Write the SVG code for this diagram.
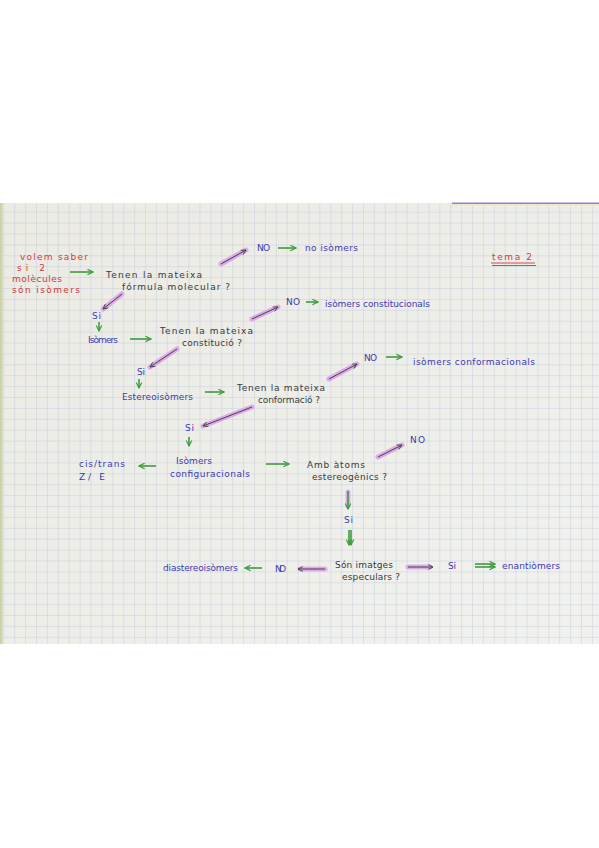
<svg xmlns="http://www.w3.org/2000/svg" width="599" height="848" viewBox="0 0 599 848">
<defs>
<pattern id="grid" patternUnits="userSpaceOnUse" width="10.9" height="10.9" x="3.3" y="4.6">
<path d="M0 0V10.9M0 0H10.9" stroke="#bcc7da" stroke-width="0.8" fill="none"/>
</pattern>
<linearGradient id="paper" x1="0" y1="0" x2="1" y2="1">
<stop offset="0" stop-color="#ebeae3"/>
<stop offset="1" stop-color="#f1f2ee"/>
</linearGradient>
<marker id="ga" viewBox="0 0 10 10" refX="9" refY="5" markerWidth="7" markerHeight="7" orient="auto-start-reverse" markerUnits="userSpaceOnUse">
<path d="M1 1L9 5L1 9" fill="none" stroke="#3d9b3d" stroke-width="1.6"/>
</marker>
<marker id="ka" viewBox="0 0 10 10" refX="9" refY="5" markerWidth="6" markerHeight="6" orient="auto-start-reverse" markerUnits="userSpaceOnUse">
<path d="M1 1L9 5L1 9" fill="none" stroke="#444" stroke-width="1.5"/>
</marker>
</defs>
<style>
text{font-family:"DejaVu Sans","Liberation Sans",sans-serif;font-size:9px}
.b{fill:#3b3bb0}
.k{fill:#3a3a3a}
.r{fill:#d23a3a}
.g{stroke:#3d9b3d;stroke-width:1.6;fill:none;marker-end:url(#ga)}
.h{stroke:#dba2ea;stroke-width:5;stroke-linecap:round;fill:none;opacity:.9}
.d{stroke:#444;stroke-width:1;fill:none;marker-end:url(#ka)}
</style>
<rect width="599" height="848" fill="#ffffff"/>
<rect x="0" y="203" width="599" height="441" fill="url(#paper)"/>
<rect x="0" y="203" width="599" height="441" fill="url(#grid)"/>
<rect x="0" y="203" width="2.5" height="441" fill="#c9d4a8"/>
<path d="M452 203.5H599" stroke="#9b7ad6" stroke-width="2"/>
<path d="M452 205H599" stroke="#ecebc8" stroke-width="2"/>
<g id="connectors">
<path class="g" d="M70 272H93"/>
<path class="h" d="M221 264L246 250"/><path class="d" d="M221 264L246 250"/>
<path class="g" d="M278 248H296"/>
<path class="h" d="M122 294L103 309"/><path class="d" d="M122 294L103 309"/>
<path class="g" d="M99 322V331"/>
<path class="g" d="M130 339H151"/>
<path class="h" d="M252 319L278 307"/><path class="d" d="M252 319L278 307"/>
<path class="g" d="M306 302H318"/>
<path class="h" d="M177 349L150 367"/><path class="d" d="M177 349L150 367"/>
<path class="g" d="M139 379V388"/>
<path class="g" d="M205 392H224"/>
<path class="h" d="M329 379L357 364"/><path class="d" d="M329 379L357 364"/>
<path class="g" d="M386 357H402"/>
<path class="h" d="M252 407L203 426"/><path class="d" d="M252 407L203 426"/>
<path class="g" d="M189 437V446"/>
<path class="g" d="M156 466H139"/>
<path class="g" d="M266 464H289"/>
<path class="h" d="M378 457L402 445"/><path class="d" d="M378 457L402 445"/>
<path class="h" d="M348 492V506"/><path class="g" d="M348 491V509"/>
<path class="g" d="M349 530V545"/><path class="g" d="M351 530V545"/>
<path class="h" d="M325 569H300"/><path class="d" d="M325 569H298"/>
<path class="h" d="M408 567H430"/><path class="d" d="M408 567H433"/>
<path class="g" d="M262 568H245"/>
<path class="g" d="M475 564H495"/><path class="g" d="M475 567H495"/>
</g>
<g id="start">
<text class="r" x="20" y="260" textLength="68">volem saber</text>
<text class="r" x="17" y="271" textLength="28">si 2</text>
<text class="r" x="12" y="282" textLength="50">molècules</text>
<text class="r" x="12" y="293" textLength="68">són isòmers</text>
</g>
<g id="title">
<text class="r" x="492" y="260" textLength="40">tema 2</text>
<path d="M491 263H535M492 265.5H536" stroke="#d23a3a" stroke-width="0.9"/>
</g>
<g id="q1">
<text class="k" x="106" y="278" textLength="96">Tenen la mateixa</text>
<text class="k" x="122" y="290" textLength="108">fórmula molecular ?</text>
</g>
<g id="no1"><text class="b" x="257" y="251" textLength="13">NO</text></g>
<g id="noiso"><text class="b" x="305" y="251" textLength="53">no isòmers</text></g>
<g id="si1"><text class="b" x="92" y="319" textLength="9">Si</text></g>
<g id="iso"><text class="b" x="88" y="343" textLength="30">Isòmers</text></g>
<g id="q2">
<text class="k" x="160" y="334" textLength="93">Tenen la mateixa</text>
<text class="k" x="182" y="346" textLength="60">constitució ?</text>
</g>
<g id="no2"><text class="b" x="286" y="305" textLength="14">NO</text></g>
<g id="isoconst"><text class="b" x="325" y="307" textLength="105">isòmers constitucionals</text></g>
<g id="si2"><text class="b" x="137" y="375" textLength="8">Si</text></g>
<g id="estereo"><text class="b" x="122" y="400" textLength="71">Estereoisòmers</text></g>
<g id="q3">
<text class="k" x="237" y="391" textLength="88">Tenen la mateixa</text>
<text class="k" x="258" y="403" textLength="62">conformació ?</text>
</g>
<g id="no3"><text class="b" x="364" y="361" textLength="13">NO</text></g>
<g id="isoconf"><text class="b" x="413" y="365" textLength="122">isòmers conformacionals</text></g>
<g id="si3"><text class="b" x="185" y="431" textLength="9">Si</text></g>
<g id="isoconfig">
<text class="b" x="176" y="464" textLength="36">Isòmers</text>
<text class="b" x="170" y="477" textLength="80">configuracionals</text>
</g>
<g id="cistrans">
<text class="b" x="79" y="467" textLength="46">cis/trans</text>
<text class="b" x="79" y="480" textLength="26">Z/ E</text>
</g>
<g id="q4">
<text class="k" x="307" y="468" textLength="58">Amb àtoms</text>
<text class="k" x="312" y="480" textLength="75">estereogènics ?</text>
</g>
<g id="no4"><text class="b" x="410" y="443" textLength="15">NO</text></g>
<g id="si4"><text class="b" x="344" y="523" textLength="9">Si</text></g>
<g id="q5">
<text class="k" x="335" y="568" textLength="58">Són imatges</text>
<text class="k" x="342" y="580" textLength="58">especulars ?</text>
</g>
<g id="no5"><text class="b" x="275" y="572" textLength="11">NO</text></g>
<g id="diastereo"><text class="b" x="163" y="571" textLength="75">diastereoisòmers</text></g>
<g id="si5"><text class="b" x="448" y="569" textLength="8">Si</text></g>
<g id="enantio"><text class="b" x="502" y="569" textLength="58">enantiòmers</text></g>
</svg>
